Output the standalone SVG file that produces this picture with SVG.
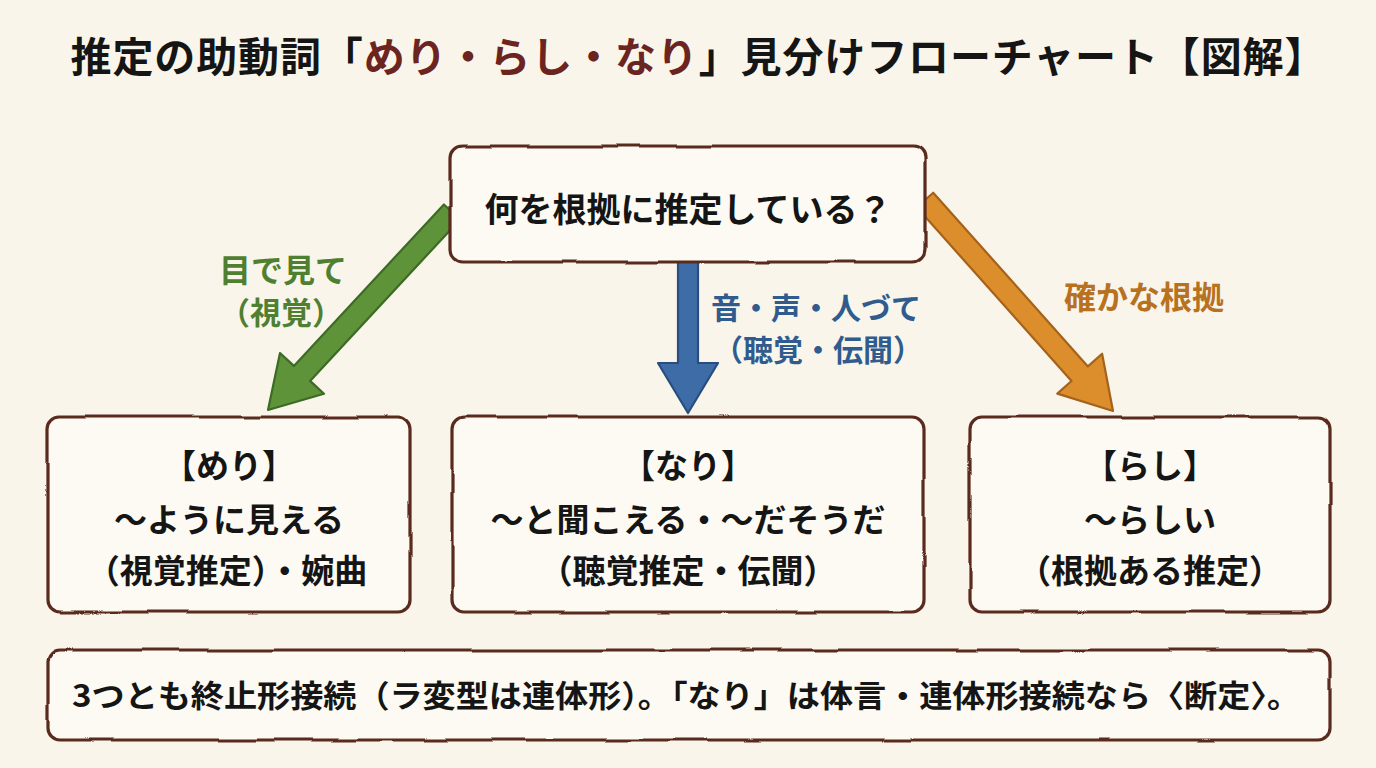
<svg xmlns="http://www.w3.org/2000/svg" width="1376" height="768" viewBox="0 0 1376 768">
  <defs>
    <filter id="wobble" x="-5%" y="-10%" width="110%" height="120%">
      <feTurbulence type="fractalNoise" baseFrequency="0.015" numOctaves="2" seed="3" result="n"/>
      <feDisplacementMap in="SourceGraphic" in2="n" scale="4" xChannelSelector="R" yChannelSelector="G"/>
    </filter>
    <style>
      .box { fill: #fcfaf2; stroke: #5a2a1f; stroke-width: 3.2; }
      .t { font-family: "Noto Sans CJK JP", "Noto Sans CJK SC", sans-serif; font-weight: 700; text-anchor: middle; fill: #151515; }
      .lg { fill: #4f7f31; }
      .lb { fill: #2f5b8e; }
      .lo { fill: #b8711f; }
    </style>
  </defs>
  <rect x="0" y="0" width="1376" height="768" fill="#f9f5ea"/>

  <g id="title">
    <text class="t" x="698" y="72" font-size="41" textLength="1255" lengthAdjust="spacing">推定の助動詞「<tspan fill="#6b2420">めり・らし・なり</tspan>」見分けフローチャート【図解】</text>
  </g>

  <g id="connectors">
    <polygon points="443.9,204.5 293.9,365.9 280,353 268,410 324,393.8 310.1,380.9 460.1,219.5" fill="#5e9339" stroke="#3d6a25" stroke-width="2.2" stroke-linejoin="round"/>
    <polygon points="678,255 678,363 658,363 688,413 718,363 698,363 698,255" fill="#3e6ca6" stroke="#284d7e" stroke-width="2.2" stroke-linejoin="round"/>
    <polygon points="933.2,192.7 1087.9,366.4 1102.1,353.7 1113,411 1057.3,393.6 1071.5,381 916.8,207.3" fill="#dc8d2c" stroke="#a5621a" stroke-width="2.2" stroke-linejoin="round"/>
    <text class="t lg" x="283" y="282" font-size="32">目で見て</text>
    <text class="t lg" x="281" y="324" font-size="31">（視覚）</text>
    <text class="t lb" x="816" y="319" font-size="30">音・声・人づて</text>
    <text class="t lb" x="818" y="361" font-size="30">（聴覚・伝聞）</text>
    <text class="t lo" x="1144" y="309" font-size="32">確かな根拠</text>
  </g>

  <g id="node-question">
    <rect class="box" x="451" y="146" width="474" height="116" rx="12" filter="url(#wobble)"/>
    <text class="t" x="688" y="222" font-size="34">何を根拠に推定している？</text>
  </g>

  <g id="node-meri">
    <rect class="box" x="48" y="417" width="362" height="195" rx="12" filter="url(#wobble)"/>
    <text class="t" x="229" y="478" font-size="33">【めり】</text>
    <text class="t" x="229" y="532" font-size="33">～ように見える</text>
    <text class="t" x="227" y="583" font-size="33">（視覚推定）・婉曲</text>
  </g>

  <g id="node-nari">
    <rect class="box" x="452" y="417" width="472" height="195" rx="12" filter="url(#wobble)"/>
    <text class="t" x="688" y="478" font-size="33">【なり】</text>
    <text class="t" x="688" y="532" font-size="33">～と聞こえる・～だそうだ</text>
    <text class="t" x="688" y="583" font-size="33">（聴覚推定・伝聞）</text>
  </g>

  <g id="node-rashi">
    <rect class="box" x="970" y="417" width="360" height="195" rx="12" filter="url(#wobble)"/>
    <text class="t" x="1150" y="478" font-size="33">【らし】</text>
    <text class="t" x="1150" y="532" font-size="33">～らしい</text>
    <text class="t" x="1150" y="583" font-size="33">（根拠ある推定）</text>
  </g>

  <g id="node-note">
    <rect class="box" x="48" y="650" width="1282" height="90" rx="12" filter="url(#wobble)"/>
    <text class="t" x="686" y="707" font-size="31" textLength="1228" lengthAdjust="spacingAndGlyphs">3つとも終止形接続（ラ変型は連体形）。「なり」は体言・連体形接続なら〈断定〉。</text>
  </g>
</svg>
